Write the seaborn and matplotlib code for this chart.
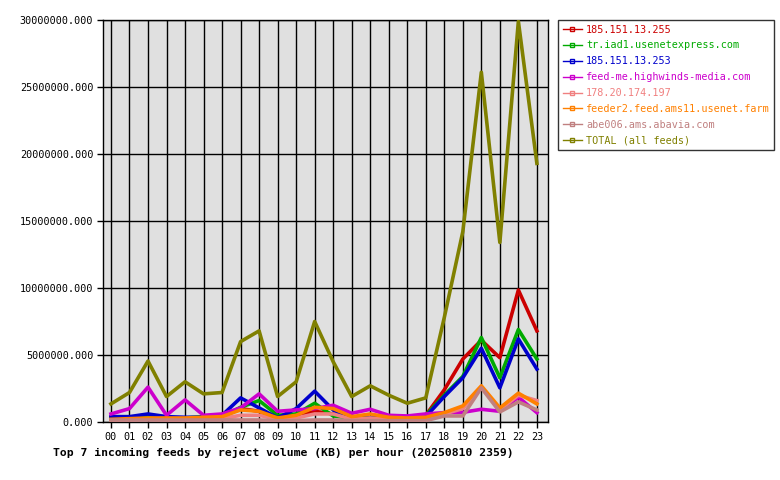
import pandas as pd
import matplotlib
matplotlib.use("Agg")
import matplotlib.pyplot as plt
import seaborn as sns
from matplotlib.lines import Line2D
from matplotlib.ticker import FuncFormatter

# --- DATA (KB rejected per hour) ---
HOURS = ["00", "01", "02", "03", "04", "05", "06", "07", "08", "09", "10", "11",
         "12", "13", "14", "15", "16", "17", "18", "19", "20", "21", "22", "23"]

FEEDS = ["185.151.13.255", "tr.iad1.usenetexpress.com", "185.151.13.253",
         "feed-me.highwinds-media.com", "178.20.174.197",
         "feeder2.feed.ams11.usenet.farm", "abe006.ams.abavia.com", "TOTAL (all feeds)"]

COLORS = ["#cc0000", "#00aa00", "#0000cc", "#cc00cc", "#f08080", "#ff8000", "#c08080", "#808000"]

red = [0.3, 0.3, 0.5, 0.3, 0.3, 0.3, 0.4, 1.0, 0.8, 0.3, 0.4, 0.8,
       0.6, 0.3, 0.3, 0.3, 0.3, 0.5, 2.4, 4.7, 6.1, 4.8, 9.85, 6.8]
green = [0.3, 0.3, 0.4, 0.3, 0.3, 0.4, 0.4, 1.1, 1.6, 0.5, 0.6, 1.4,
         0.45, 0.3, 0.3, 0.3, 0.3, 0.5, 2.0, 3.4, 6.3, 3.3, 6.9, 4.7]
blue = [0.4, 0.4, 0.6, 0.4, 0.35, 0.35, 0.5, 1.8, 1.05, 0.3, 1.0, 2.3,
        0.9, 0.2, 0.3, 0.3, 0.3, 0.4, 1.9, 3.3, 5.5, 2.55, 6.2, 3.95]
magenta = [0.6, 1.0, 2.6, 0.5, 1.65, 0.5, 0.6, 1.05, 2.1, 0.8, 0.9, 1.0,
           1.25, 0.65, 0.95, 0.5, 0.45, 0.6, 0.7, 0.72, 0.95, 0.8, 1.85, 0.7]
salmon = [0.15, 0.15, 0.2, 0.15, 0.15, 0.2, 0.25, 0.5, 0.5, 0.2, 0.3, 0.6,
          0.6, 0.2, 0.3, 0.2, 0.2, 0.25, 0.6, 1.0, 2.6, 0.9, 2.0, 1.6]
orange = [0.2, 0.25, 0.3, 0.3, 0.3, 0.35, 0.4, 0.9, 0.8, 0.3, 0.5, 1.1,
          1.0, 0.4, 0.6, 0.35, 0.3, 0.35, 0.7, 1.2, 2.7, 1.05, 2.15, 1.35]
rosy = [0.15, 0.15, 0.15, 0.15, 0.15, 0.15, 0.15, 0.15, 0.15, 0.1, 0.1, 0.15,
        0.15, 0.1, 0.1, 0.1, 0.1, 0.1, 0.45, 0.45, 2.55, 0.75, 1.5, 0.9]
total = [1.35, 2.2, 4.55, 1.9, 3.0, 2.1, 2.2, 6.0, 6.8, 1.9, 3.0, 7.5,
         4.5, 1.9, 2.7, 2.0, 1.4, 1.8, 7.8, 14.2, 26.1, 13.4, 29.9, 19.3]

SERIES = [red, green, blue, magenta, salmon, orange, rosy, total]

TITLE = "Top 7 incoming feeds by reject volume (KB) per hour (20250810 2359)"
MONO = "DejaVu Sans Mono"


def main():
    # long table for seaborn
    rows = []
    for feed, vals in zip(FEEDS, SERIES):
        for i, v in enumerate(vals):
            rows.append({"hour": i, "feed": feed, "kb": v * 1e6})
    df = pd.DataFrame(rows)

    fig = plt.figure(figsize=(7.8, 4.8), dpi=100)
    ax = fig.add_axes([103 / 780, 58 / 480, 445 / 780, 402 / 480])
    ax.set_facecolor("#e0e0e0")

    sns.lineplot(data=df, x="hour", y="kb", hue="feed", hue_order=FEEDS,
                 palette=dict(zip(FEEDS, COLORS)), linewidth=2.6,
                 legend=False, ax=ax, zorder=3)

    ax.set_xlim(-0.43, 23.6)
    ax.set_ylim(0, 30e6)
    ax.set_xticks(range(len(HOURS)))
    ax.set_xticklabels(HOURS)
    ax.set_yticks([i * 5e6 for i in range(7)])
    ax.yaxis.set_major_formatter(FuncFormatter(lambda x, pos: "%.3f" % x))
    ax.grid(True, color="black", linewidth=1.0, zorder=1)
    ax.set_axisbelow(True)
    ax.set_xlabel("")
    ax.set_ylabel("")
    ax.tick_params(axis="both", direction="out", length=4, width=1, colors="black",
                   labelsize=7.3, pad=3)
    for lab in ax.get_xticklabels() + ax.get_yticklabels():
        lab.set_fontfamily(MONO)
    for s in ax.spines.values():
        s.set_color("black")
        s.set_linewidth(1.0)

    # legend with small square markers like the original
    handles = [Line2D([0], [0], color=c, linewidth=1.0, marker="s", markersize=2.5,
                      markerfacecolor="none", markeredgecolor=c) for c in COLORS]
    leg = fig.legend(handles, FEEDS, loc="upper left",
                     bbox_to_anchor=(558 / 780, 1 - 20 / 480),
                     prop={"family": MONO, "size": 7.3}, frameon=True,
                     fancybox=False, edgecolor="black", handlelength=1.9,
                     handletextpad=0.4, labelspacing=0.58, borderpad=0.45,
                     borderaxespad=0)
    leg.get_frame().set_linewidth(1.0)
    for txt, c in zip(leg.get_texts(), COLORS):
        txt.set_color(c)

    fig.text(283 / 780, 1 - 452 / 480, TITLE, ha="center", va="center",
             fontfamily=MONO, fontweight="bold", fontsize=8.2)

    fig.savefig("out.png", dpi=100, facecolor="white")


if __name__ == "__main__":
    main()
